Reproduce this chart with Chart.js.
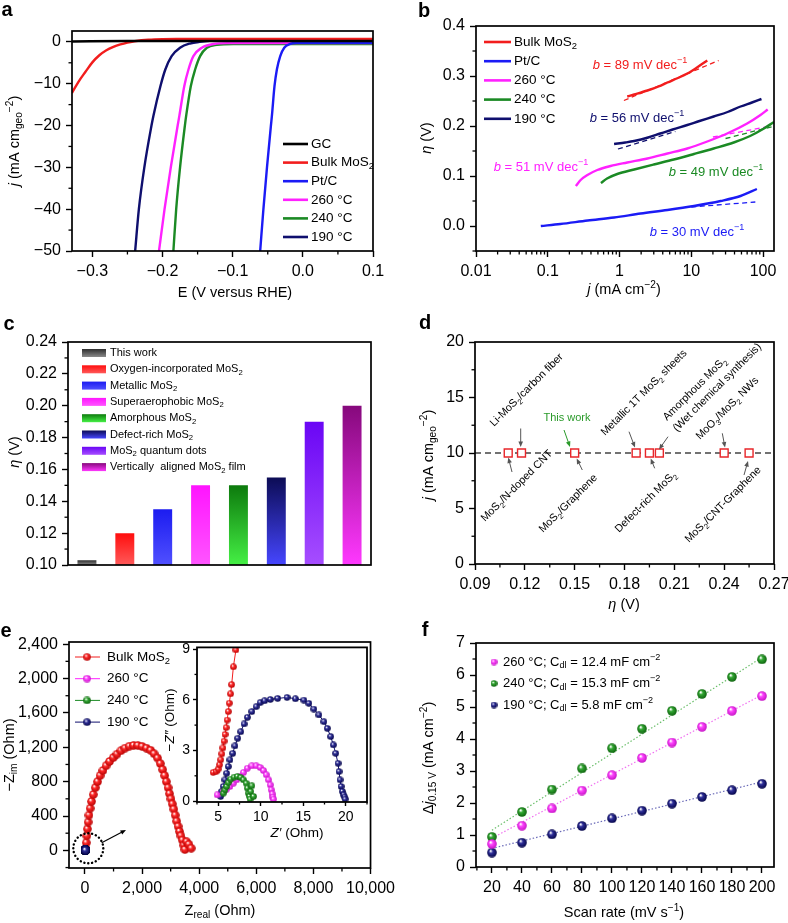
<!DOCTYPE html>
<html>
<head>
<meta charset="utf-8">
<title>MoS2 HER figure</title>
<script src="https://cdn.jsdelivr.net/npm/chart.js@4.4.1/dist/chart.umd.min.js"></script>
<style>
  html, body { margin: 0; padding: 0; background: #fff; width: 788px; height: 923px; overflow: hidden; }
  canvas { position: absolute; }
</style>
</head>
<body>
<canvas id="pa"></canvas>
<canvas id="pb"></canvas>
<canvas id="pc"></canvas>
<canvas id="pd"></canvas>
<canvas id="pe"></canvas>
<canvas id="pei"></canvas>
<canvas id="pf"></canvas>
<script>
const FONT = "'Liberation Sans', Arial, Helvetica, sans-serif";

// a) polarization curves, [E (V vs RHE), j (mA cm-2)]
const lsvGC = [[-0.329, 0.1], [-0.25, 0.2], [-0.15, 0.2], [0.1, 0.2]];
const lsvBulk = [[-0.329, -12.2], [-0.32, -9.6], [-0.31, -7.2], [-0.30, -4.9], [-0.29, -3.2], [-0.28, -2.0], [-0.27, -1.2], [-0.26, -0.62], [-0.25, -0.18], [-0.24, 0.14], [-0.23, 0.38], [-0.22, 0.53], [-0.20, 0.66], [-0.18, 0.7], [0.10, 0.7]];
const lsvPtC = [[-0.0608, -50], [-0.0562, -40], [-0.0511, -30], [-0.0455, -20], [-0.0441, -17.7], [-0.0404, -10.6], [-0.037, -6.6], [-0.0322, -3.4], [-0.0265, -1.4], [-0.018, -0.5], [-0.0085, -0.2], [0.10, -0.2]];
const lsv260 = [[-0.205, -50], [-0.1971, -40], [-0.1882, -30], [-0.1784, -20], [-0.176, -17.7], [-0.169, -10.6], [-0.163, -6.6], [-0.156, -3.4], [-0.144, -1.4], [-0.127, -0.5], [-0.108, -0.3], [0.10, -0.3]];
const lsv240 = [[-0.1845, -50], [-0.1805, -40], [-0.175, -30], [-0.1681, -20], [-0.1663, -17.7], [-0.1597, -10.6], [-0.1535, -6.6], [-0.1464, -3.4], [-0.1368, -1.4], [-0.1226, -0.7], [-0.099, -0.5], [0.10, -0.5]];
const lsv190 = [[-0.239, -50], [-0.2337, -40], [-0.2259, -30], [-0.2157, -20], [-0.213, -17.7], [-0.203, -10.6], [-0.196, -6.6], [-0.187, -3.4], [-0.175, -1.4], [-0.161, -0.4], [-0.147, 0], [-0.12, 0.3], [0.10, 0.3]];
const lsvLabels = ['GC', 'Bulk MoS_{2}', 'Pt/C', '260 °C', '240 °C', '190 °C'];
const aXTicks = [-0.3, -0.2, -0.1, 0, 0.1];
const aYTicks = [-50, -40, -30, -20, -10, 0];

// b) Tafel plots, [j (mA cm-2), eta (V)]
const tafelBulk = [[1.28, 0.259], [1.6, 0.263], [2.45, 0.271], [3.5, 0.279], [4.65, 0.287], [6.5, 0.296], [8.8, 0.305], [12, 0.317], [16.7, 0.331]];
const tafelPtC = [[0.08, 0.0], [0.15, 0.004], [0.36, 0.011], [0.84, 0.017], [1.97, 0.025], [4.65, 0.032], [10.9, 0.04], [25.6, 0.05], [48.6, 0.06], [82, 0.074]];
const tafel260 = [[0.246, 0.08], [0.287, 0.092], [0.357, 0.102], [0.49, 0.112], [0.75, 0.12], [1.28, 0.127], [2.45, 0.135], [4.65, 0.145], [8.8, 0.155], [16.7, 0.169], [31.6, 0.185], [60, 0.205], [92, 0.222], [116, 0.233]];
const tafel240 = [[0.55, 0.086], [0.67, 0.095], [0.93, 0.104], [1.6, 0.113], [3, 0.123], [5.7, 0.133], [10.9, 0.144], [20.5, 0.155], [39, 0.167], [66, 0.18], [100, 0.194], [142, 0.208]];
const tafel190 = [[0.84, 0.164], [1.2, 0.167], [1.6, 0.17], [2.5, 0.177], [3.7, 0.185], [5.5, 0.193], [8.8, 0.202], [13, 0.21], [20.5, 0.219], [32, 0.228], [48.6, 0.239], [70, 0.247], [95, 0.254]];
const fitBulk = [[1.15, 0.251], [24, 0.331]];
const fitPtC = [[10, 0.038], [78, 0.048]];
const fit260 = [[20, 0.178], [110, 0.198]];
const fit240 = [[30, 0.175], [145, 0.2]];
const fit190 = [[0.95, 0.154], [6, 0.189]];
const tafelLabels = ['Bulk MoS_{2}', 'Pt/C', '260 °C', '240 °C', '190 °C'];
const tafelSlopes = [89, 30, 51, 49, 56];
const bXTicks = [0.01, 0.1, 1, 10, 100];
const bXTickLabels = ['0.01', '0.1', '1', '10', '100'];
const bYTicks = [0, 0.1, 0.2, 0.3, 0.4];

// c) overpotential comparison
const compCategories = ['This work', 'Oxygen-incorporated MoS_{2}', 'Metallic MoS_{2}', 'Superaerophobic MoS_{2}', 'Amorphous MoS_{2}', 'Defect-rich MoS_{2}', 'MoS_{2} quantum dots', 'Vertically  aligned MoS_{2} film'];
const compOverpotential = [0.103, 0.12, 0.135, 0.15, 0.15, 0.155, 0.19, 0.2];
const cYTicks = [0.10, 0.12, 0.14, 0.16, 0.18, 0.20, 0.22, 0.24];

// d) literature at j = 10 mA cm-2
const litLabels = ['MoS_{2}/N-doped CNT', 'Li-MoS_{2}/carbon fiber', 'MoS_{2}/Graphene', 'Metallic 1T MoS_{2} sheets', 'Defect-rich MoS_{2}', 'Amorphous MoS_{2}|(Wet chemical synthesis)', 'MoO_{3}/MoS_{2} NWs', 'MoS_{2}/CNT-Graphene'];
const litEta = [0.11, 0.118, 0.15, 0.187, 0.195, 0.201, 0.24, 0.255];
const litJ = [10, 10, 10, 10, 10, 10, 10, 10];
const refJ = 10;
const dXTicks = [0.09, 0.12, 0.15, 0.18, 0.21, 0.24, 0.27];
const dYTicks = [0, 5, 10, 15, 20];

// e) Nyquist plots, [Z' (Ohm), -Z'' (Ohm)]
const eisBulk = [[30, 20], [45, 90], [65, 170], [85, 250], [110, 330], [140, 410], [180, 490], [230, 570], [290, 650], [360, 730], [440, 800], [530, 870], [630, 930], [740, 985], [860, 1035], [990, 1080], [1120, 1120], [1260, 1160], [1400, 1190], [1550, 1212], [1700, 1222], [1850, 1222], [2000, 1210], [2150, 1190], [2300, 1165], [2420, 1125], [2540, 1075], [2640, 1010], [2720, 940], [2790, 870], [2850, 800], [2910, 730], [2960, 660], [3010, 600], [3060, 540], [3110, 480], [3160, 410], [3210, 340], [3260, 280], [3310, 220], [3360, 170], [3410, 120], [3460, 60], [3500, 10], [3560, 100], [3640, 70], [3720, 25]];
const eisBulkZoom = [[4.4, 1.7], [4.75, 1.75], [5.0, 1.9], [5.15, 2.15], [5.3, 2.45], [5.42, 2.8], [5.55, 3.15], [5.68, 3.55], [5.8, 3.95], [5.93, 4.35], [6.05, 4.8], [6.18, 5.3], [6.3, 5.8], [6.45, 6.35], [6.58, 6.9], [6.78, 7.95], [7.08, 8.95], [7.35, 10.1]];
const eis260 = [[4.88, 0.37], [5.59, 0.57], [5.99, 0.71], [6.38, 0.87], [6.78, 1.06], [7.17, 1.26], [7.57, 1.46], [7.96, 1.69], [8.43, 1.95], [8.95, 2.09], [9.46, 2.09], [9.93, 1.99], [10.33, 1.81], [10.65, 1.56], [10.92, 1.26], [11.12, 0.96], [11.24, 0.67], [11.36, 0.43], [11.43, 0.24], [11.51, 0.12]];
const eis240 = [[5.59, 0.47], [5.79, 0.67], [5.99, 0.87], [6.18, 1.1], [6.46, 1.3], [6.86, 1.42], [7.25, 1.46], [7.65, 1.4], [7.96, 1.26], [8.28, 1.06], [8.43, 0.77], [8.55, 0.47], [8.67, 0.28], [8.83, 0.57], [8.95, 0.91], [8.75, 0.12], [9.15, 0.28]];
const eis190 = [[5.28, 0.28], [5.39, 0.57], [5.59, 0.87], [5.79, 1.26], [5.99, 1.65], [6.18, 2.05], [6.38, 2.44], [6.7, 2.83], [6.97, 3.27], [7.29, 3.72], [7.65, 4.11], [8.04, 4.57], [8.43, 4.96], [8.95, 5.3], [9.46, 5.59], [9.93, 5.83], [10.45, 5.94], [11.12, 6.02], [11.99, 6.08], [13.09, 6.14], [14.08, 6.06], [15.07, 5.98], [15.66, 5.79], [16.25, 5.45], [16.84, 5.1], [17.43, 4.7], [17.83, 4.31], [18.23, 3.82], [18.54, 3.33], [18.82, 2.83], [19.09, 2.24], [19.21, 1.75], [19.33, 1.26], [19.45, 0.87], [19.61, 0.57], [19.76, 0.37], [19.88, 0.24], [19.92, 0.12]];
const eisLabels = ['Bulk MoS_{2}', '260 °C', '240 °C', '190 °C'];
const eXTicks = [0, 2000, 4000, 6000, 8000, 10000];
const eYTicks = [0, 400, 800, 1200, 1600, 2000, 2400];
const eInXTicks = [5, 10, 15, 20];
const eInYTicks = [0, 3, 6, 9];

// f) double-layer capacitance
const scanRates = [20, 40, 60, 80, 100, 120, 140, 160, 180, 200];
const dj260 = [0.72, 1.29, 1.83, 2.39, 2.87, 3.41, 3.89, 4.38, 4.88, 5.34];
const dj240 = [0.94, 1.72, 2.42, 3.08, 3.71, 4.32, 4.88, 5.41, 5.94, 6.49];
const dj190 = [0.45, 0.76, 1.02, 1.28, 1.52, 1.76, 1.98, 2.19, 2.4, 2.6];
const fitEnds260 = [0.9, 5.38];
const fitEnds240 = [1.15, 6.55];
const fitEnds190 = [0.58, 2.66];
const cdlTemps = ['260 °C', '240 °C', '190 °C'];
const cdlValues = ['12.4', '15.3', '5.8'];
const fXTicks = [20, 40, 60, 80, 100, 120, 140, 160, 180, 200];
const fYTicks = [0, 1, 2, 3, 4, 5, 6, 7];

// colours
const K = '#000000', RED = '#f21d1d', BLUE = '#1b1bf5', MAG = '#ff21ff', GRN = '#1b8a24', NAVY = '#0f0f6e';

const xy = pts => pts.map(p => ({x: p[0], y: p[1]}));
const minus = s => s.replace(/-/g, '\u2212');
const comma = v => v.toLocaleString('en-US');

function parseRich(s) {
  const out = [], re = /([_^~])\{([^}]*)\}/g;
  let last = 0, m;
  while ((m = re.exec(s)) !== null) {
    if (m.index > last) out.push({t: s.slice(last, m.index), k: ''});
    out.push({t: m[2], k: m[1]});
    last = re.lastIndex;
  }
  if (last < s.length) out.push({t: s.slice(last), k: ''});
  return out;
}

function text(ctx, s, x, y, o = {}) {
  const size = o.size || 14.5;
  const parts = parseRich(s);
  let w = 0;
  parts.forEach(p => {
    p.sz = (p.k === '_' || p.k === '^') ? size * 0.7 : size;
    p.font = (p.k === '~' ? 'italic ' : '') + (o.bold ? 'bold ' : '') + p.sz + 'px ' + FONT;
    ctx.font = p.font;
    p.w = ctx.measureText(p.t).width;
    w += p.w;
  });
  ctx.save();
  ctx.translate(x, y);
  if (o.rot) ctx.rotate(o.rot * Math.PI / 180);
  ctx.fillStyle = o.color || '#000';
  ctx.textAlign = 'left';
  ctx.textBaseline = o.baseline || 'middle';
  let cx = o.align === 'left' ? 0 : -w / 2;
  parts.forEach(p => {
    ctx.font = p.font;
    const dy = p.k === '_' ? size * 0.3 : p.k === '^' ? -size * 0.36 : 0;
    ctx.fillText(p.t, cx, dy);
    cx += p.w;
  });
  ctx.restore();
}

function hline(ctx, x1, x2, y, color, lw, dash) {
  ctx.save();
  ctx.strokeStyle = color; ctx.lineWidth = lw;
  ctx.setLineDash(dash || []);
  ctx.beginPath(); ctx.moveTo(x1, y); ctx.lineTo(x2, y); ctx.stroke();
  ctx.restore();
}

function arrow(ctx, x1, y1, x2, y2, color, lw) {
  const a = Math.atan2(y2 - y1, x2 - x1), hl = 5.5, hw = 2.3;
  ctx.save();
  ctx.strokeStyle = color; ctx.fillStyle = color; ctx.lineWidth = lw || 1;
  ctx.beginPath(); ctx.moveTo(x1, y1);
  ctx.lineTo(x2 - Math.cos(a) * hl * 0.8, y2 - Math.sin(a) * hl * 0.8); ctx.stroke();
  ctx.beginPath(); ctx.moveTo(x2, y2);
  ctx.lineTo(x2 - hl * Math.cos(a) + hw * Math.sin(a), y2 - hl * Math.sin(a) - hw * Math.cos(a));
  ctx.lineTo(x2 - hl * Math.cos(a) - hw * Math.sin(a), y2 - hl * Math.sin(a) + hw * Math.cos(a));
  ctx.closePath(); ctx.fill();
  ctx.restore();
}

function makeBall(base, edge, d) {
  const c = document.createElement('canvas');
  c.width = d; c.height = d;
  const g = c.getContext('2d');
  const gr = g.createRadialGradient(d * 0.36, d * 0.32, d * 0.04, d * 0.5, d * 0.5, d * 0.52);
  gr.addColorStop(0, '#ffffff');
  gr.addColorStop(0.32, base);
  gr.addColorStop(1, edge);
  g.fillStyle = gr;
  g.beginPath(); g.arc(d / 2, d / 2, d / 2 - 0.2, 0, Math.PI * 2); g.fill();
  return c;
}

function drawMinor(chart, minor, len) {
  const ctx = chart.ctx, ca = chart.chartArea;
  Object.keys(minor).forEach(k => {
    const sc = chart.scales[k], st = minor[k], vals = [];
    if (st === 'log') {
      for (let e = -3; e <= 3; e++) for (let m = 2; m <= 9; m++) vals.push(m * Math.pow(10, e));
    } else {
      for (let i = Math.ceil(sc.min / st - 1e-6); i <= Math.floor(sc.max / st + 1e-6); i++) vals.push(i * st);
    }
    vals.forEach(v => {
      if (v < sc.min - 1e-9 || v > sc.max + 1e-9) return;
      const tol = st === 'log' ? Math.abs(v) * 1e-6 : st * 1e-3;
      if (sc.ticks.some(tk => Math.abs(tk.value - v) <= tol)) return;
      const p = sc.getPixelForValue(v);
      ctx.beginPath();
      if (sc.isHorizontal()) { ctx.moveTo(p, ca.bottom); ctx.lineTo(p, ca.bottom + len); }
      else { ctx.moveTo(ca.left, p); ctx.lineTo(ca.left - len, p); }
      ctx.stroke();
    });
  });
}

function axis(pos, type, min, max, ticks, fmt, o = {}) {
  return {
    type: type, position: pos, min: min, max: max,
    afterBuildTicks: ax => { ax.ticks = ticks.map(v => ({value: v})); },
    grid: {drawOnChartArea: false, drawTicks: true, tickLength: o.tl || 6, tickWidth: 1.4, tickColor: '#000'},
    border: {display: false},
    ticks: {color: '#000', font: {family: FONT, size: o.fs || 16}, padding: o.pad !== undefined ? o.pad : 5,
            autoSkip: false, maxRotation: 0, minRotation: 0, callback: v => fmt(v)}
  };
}

// box = canvas [x, y, w, h] on the page, plot = wanted chart area [left, top, right, bottom]
function panel(id, box, plot, type, data, scales, deco) {
  const [x0, y0, w, h] = box, [l, t, r, b] = plot;
  const cv = document.getElementById(id);
  cv.width = w; cv.height = h;
  cv.style.left = x0 + 'px'; cv.style.top = y0 + 'px';
  const L = l - x0, B = y0 + h - b;
  let bottomShown = false;
  Object.values(scales).forEach(s => {
    if (s.display === false) return;
    if (s.position === 'left') s.afterFit = ax => { ax.width = L; };
    else { s.afterFit = ax => { ax.height = B; }; bottomShown = true; }
  });
  return new Chart(cv, {
    type: type,
    data: data,
    options: {
      responsive: false, animation: false, devicePixelRatio: 1, events: [],
      layout: {padding: {left: 0, top: t - y0, right: x0 + w - r, bottom: bottomShown ? 0 : B}},
      scales: scales,
      plugins: {legend: {display: false}, tooltip: {enabled: false}}
    },
    plugins: [{
      id: 'deco_' + id,
      beforeDatasetsDraw(chart) {
        if (!deco.bg) return;
        const ca = chart.chartArea, ctx = chart.ctx;
        ctx.save(); ctx.fillStyle = deco.bg;
        ctx.fillRect(ca.left, ca.top, ca.right - ca.left, ca.bottom - ca.top);
        ctx.restore();
      },
      afterDraw(chart) {
        const ctx = chart.ctx, ca = chart.chartArea;
        ctx.save();
        ctx.strokeStyle = '#000'; ctx.lineWidth = 1.3;
        if (deco.minor) drawMinor(chart, deco.minor, deco.minorLen || 3.5);
        ctx.lineWidth = deco.frame || 1.7;
        ctx.strokeRect(ca.left, ca.top, ca.right - ca.left, ca.bottom - ca.top);
        ctx.translate(-x0, -y0);
        if (deco.draw) deco.draw(ctx, chart);
        ctx.restore();
      }
    }]
  });
}

// ---------- a ----------
const lsvSeries = [lsvGC, lsvBulk, lsvPtC, lsv260, lsv240, lsv190];
const lsvColors = [K, RED, BLUE, MAG, GRN, NAVY];
panel('pa', [0, 0, 394, 305], [72, 31, 373, 251], 'scatter',
  {datasets: lsvSeries.map((s, i) => ({data: xy(s), showLine: true, borderColor: lsvColors[i], borderWidth: 2.4,
    pointRadius: 0, cubicInterpolationMode: 'monotone'}))},
  {x: axis('bottom', 'linear', -0.329, 0.1, aXTicks, v => minus(v.toFixed(1))),
   y: axis('left', 'linear', -50, 2.6, aYTicks, v => minus(String(v)))},
  {minor: {x: 0.05, y: 5}, draw(ctx) {
    text(ctx, 'a', 7, 10, {size: 20, bold: true});
    text(ctx, '~{j} (mA cm_{geo}^{\u22122})', 15, 141, {rot: -90});
    text(ctx, 'E (V versus RHE)', 235, 293);
    lsvLabels.forEach((lab, i) => {
      const y = 144 + i * 18.6;
      hline(ctx, 283, 308, y, lsvColors[i], 2.6);
      text(ctx, lab, 311, y, {size: 13.5, align: 'left'});
    });
  }});

// ---------- b ----------
const tafelSeries = [tafelBulk, tafelPtC, tafel260, tafel240, tafel190];
const tafelFits = [fitBulk, fitPtC, fit260, fit240, fit190];
const tafelColors = [RED, BLUE, MAG, GRN, NAVY];
const slopeSpots = [[640, 65], [697, 232], [541, 167], [716, 172], [637, 118]];
panel('pb', [394, 0, 414, 305], [476, 26, 774, 251], 'scatter',
  {datasets: tafelSeries.map((s, i) => ({data: xy(s), showLine: true, borderColor: tafelColors[i], borderWidth: 2.4,
      pointRadius: 0, cubicInterpolationMode: 'monotone'}))
    .concat(tafelFits.map((s, i) => ({data: xy(s), showLine: true, borderColor: tafelColors[i], borderWidth: 1.3,
      borderDash: [5, 3.5], pointRadius: 0})))},
  {x: axis('bottom', 'logarithmic', 0.01, 142, bXTicks,
      v => bXTickLabels[bXTicks.findIndex(t => Math.abs(Math.log10(t) - Math.log10(v)) < 1e-6)]),
   y: axis('left', 'linear', -0.05, 0.4, bYTicks, v => v.toFixed(1))},
  {minor: {x: 'log', y: 0.05}, draw(ctx) {
    text(ctx, 'b', 424, 11, {size: 20, bold: true});
    text(ctx, '~{\u03b7} (V)', 427, 138, {rot: -90});
    text(ctx, '~{j} (mA cm^{\u22122})', 624, 290);
    tafelLabels.forEach((lab, i) => {
      const y = 42 + i * 19.2;
      hline(ctx, 484, 511, y, tafelColors[i], 2.6);
      text(ctx, lab, 514, y, {size: 13.5, align: 'left'});
    });
    tafelSlopes.forEach((b, i) => {
      text(ctx, '~{b} = ' + b + ' mV dec^{\u22121}', slopeSpots[i][0], slopeSpots[i][1], {size: 13, color: tafelColors[i]});
    });
  }});

// ---------- c ----------
const barShades = [['#2e2e2e', '#8a8a8a'], ['#ff0d0d', '#ff5a5a'], ['#1c1cf0', '#5050ff'], ['#ff14ff', '#ff55ff'],
                   ['#0d7a0d', '#45f045'], ['#0c0c55', '#4646ff'], ['#6a06f5', '#a64dff'], ['#86097c', '#ff38ff']];
panel('pc', [0, 305, 394, 310], [68, 342, 371, 565], 'bar',
  {labels: compCategories, datasets: [{data: compOverpotential, barPercentage: 0.5, categoryPercentage: 1,
    backgroundColor: c => {
      const sh = barShades[c.dataIndex] || barShades[0];
      const ch = c.chart, ca = ch.chartArea;
      if (!ca || c.type !== 'data') return sh[0];
      const yTop = ch.scales.y.getPixelForValue(c.raw);
      const g = ch.ctx.createLinearGradient(0, yTop, 0, ca.bottom);
      g.addColorStop(0, sh[0]); g.addColorStop(1, sh[1]);
      return g;
    }}]},
  {x: {type: 'category', display: false},
   y: axis('left', 'linear', 0.10, 0.24, cYTicks, v => v.toFixed(2))},
  {minor: {y: 0.01}, draw(ctx) {
    text(ctx, 'c', 9, 324, {size: 20, bold: true});
    text(ctx, '~{\u03b7} (V)', 15, 452, {rot: -90});
    compCategories.forEach((lab, i) => {
      const y = 353 + i * 16.3;
      const g = ctx.createLinearGradient(0, y - 4, 0, y + 4);
      g.addColorStop(0, barShades[i][0]); g.addColorStop(1, barShades[i][1]);
      ctx.fillStyle = g;
      ctx.fillRect(82, y - 4, 24, 8);
      text(ctx, lab, 110, y, {size: 11, align: 'left'});
    });
  }});

// ---------- d ----------
const dNoteSpots = [[[485, 522]], [[494, 427]], [[543, 533]], [[605, 436]], [[619, 533]], [[667, 421], [677, 432]], [[700, 440]], [[689, 543]]];
const dArrows = [[512, 472, 508.3, 457.5], [520.7, 428.5, 520.7, 447], [582.3, 470, 576.7, 458.5], [629, 431.7, 635, 447.5],
                 [654.7, 468.3, 650.7, 458.5], [668, 436.7, 659, 449.5], [722.3, 433.3, 725, 447.5], [744, 475, 748, 461]];
panel('pd', [394, 305, 414, 310], [475, 342, 774, 564], 'scatter',
  {datasets: [
    {data: litEta.map((x, i) => ({x: x, y: litJ[i]})), pointStyle: 'rect', pointRadius: 5.6,
     borderColor: '#e8262a', backgroundColor: '#ffffff', borderWidth: 1.4},
    {data: [{x: dXTicks[0], y: refJ}, {x: dXTicks[dXTicks.length - 1], y: refJ}], showLine: true,
     borderColor: '#444444', borderWidth: 1.5, borderDash: [6, 4], pointRadius: 0}
  ]},
  {x: axis('bottom', 'linear', 0.09, 0.27, dXTicks, v => v.toFixed(2)),
   y: axis('left', 'linear', 0, 20, dYTicks, v => String(v))},
  {minor: {x: 0.015, y: 2.5}, draw(ctx) {
    text(ctx, 'd', 425, 323, {size: 20, bold: true});
    text(ctx, '~{j} (mA cm_{geo}^{\u22122})', 429, 455, {rot: -90});
    text(ctx, '~{\u03b7} (V)', 624, 605);
    litLabels.forEach((lab, i) => {
      lab.split('|').forEach((line, k) => {
        const p = dNoteSpots[i][k];
        text(ctx, line, p[0], p[1], {size: 10.8, rot: -45, align: 'left', baseline: 'alphabetic'});
      });
    });
    dArrows.forEach(a => arrow(ctx, a[0], a[1], a[2], a[3], '#555555', 1));
    text(ctx, 'This work', 567, 418, {size: 11, color: '#2a9a2a'});
    arrow(ctx, 564, 430, 570, 447, '#2a9a2a', 1);
  }});

// ---------- e ----------
const balls = {
  red: makeBall('#ff2a2a', '#b00000', 9), mag: makeBall('#ff45ff', '#c010c0', 9),
  grn: makeBall('#34a834', '#0a5c0a', 9), navy: makeBall('#30309a', '#000040', 9)
};
const ballsSmall = {
  red: makeBall('#ff2a2a', '#b00000', 7), mag: makeBall('#ff45ff', '#c010c0', 7),
  grn: makeBall('#34a834', '#0a5c0a', 7), navy: makeBall('#30309a', '#000040', 7)
};
const eisColors = [RED, MAG, GRN, NAVY];
const eisKeys = ['red', 'mag', 'grn', 'navy'];
function eisSet(pts, key, color, order, set) {
  return {data: xy(pts), showLine: true, borderColor: color, borderWidth: 1, pointStyle: set[key],
          pointRadius: 4, order: order};
}
panel('pe', [0, 615, 400, 308], [69, 642, 371, 868], 'scatter',
  {datasets: [eisSet(eisBulk, 'red', RED, 3, balls), eisSet(eis260, 'mag', MAG, 2, balls),
              eisSet(eis240, 'grn', GRN, 1, balls), eisSet(eis190, 'navy', NAVY, 0, balls)]},
  {x: axis('bottom', 'linear', -560, 10000, eXTicks, comma),
   y: axis('left', 'linear', -205, 2425, eYTicks, comma)},
  {minor: {x: 1000, y: 200}, draw(ctx) {
    text(ctx, 'e', 6, 631, {size: 20, bold: true});
    text(ctx, '\u2212Z_{im} (Ohm)', 10, 755, {rot: -90});
    text(ctx, 'Z_{real} (Ohm)', 220, 911);
    eisLabels.forEach((lab, i) => {
      const y = 657 + i * 21.7;
      hline(ctx, 75, 100, y, eisColors[i], 1);
      ctx.drawImage(ballsSmall[eisKeys[i]], 87 - 4, y - 4, 8, 8);
      text(ctx, lab, 107, y, {size: 13.5, align: 'left'});
    });
    ctx.save();
    ctx.strokeStyle = '#000'; ctx.lineWidth = 2.4; ctx.lineCap = 'round';
    ctx.setLineDash([0.1, 3.8]);
    ctx.beginPath(); ctx.arc(88.3, 848.3, 15, 0, Math.PI * 2); ctx.stroke();
    ctx.restore();
    arrow(ctx, 101.7, 842.7, 126, 830, '#000', 1.2);
  }});

panel('pei', [160, 636, 215, 209], [197, 647, 367, 802], 'scatter',
  {datasets: [eisSet(eisBulkZoom, 'red', RED, 3, ballsSmall), eisSet(eis260, 'mag', MAG, 1, ballsSmall),
              eisSet(eis240, 'grn', GRN, 0, ballsSmall), eisSet(eis190, 'navy', NAVY, 2, ballsSmall)]},
  {x: axis('bottom', 'linear', 2.5, 22.5, eInXTicks, v => String(v), {fs: 14, tl: 4, pad: 3}),
   y: axis('left', 'linear', -0.05, 9.1, eInYTicks, v => String(v), {fs: 14, tl: 4, pad: 3})},
  {bg: '#ffffff', minor: {x: 2.5, y: 1.5}, minorLen: 2.5, frame: 1.8, draw(ctx) {
    text(ctx, '\u2212~{Z\u2033} (Ohm)', 170, 720, {rot: -90, size: 13.5});
    text(ctx, '~{Z\u2032} (Ohm)', 297, 833, {size: 13.5});
  }});

// ---------- f ----------
const fBalls = {
  mag: makeBall('#ff45ff', '#c010c0', 10), grn: makeBall('#34a834', '#0a5c0a', 10), navy: makeBall('#30309a', '#000040', 10)
};
const fSeries = [dj260, dj240, dj190];
const fFits = [fitEnds260, fitEnds240, fitEnds190];
const fKeys = ['mag', 'grn', 'navy'];
const fFitColors = ['#f070f0', '#6cbf6c', '#6a6ab8'];
panel('pf', [394, 615, 414, 308], [476, 643, 774, 867], 'scatter',
  {datasets: fSeries.map((s, i) => ({data: scanRates.map((x, k) => ({x: x, y: s[k]})), pointStyle: fBalls[fKeys[i]], pointRadius: 5}))
    .concat(fFits.map((f, i) => ({data: [{x: scanRates[0], y: f[0]}, {x: scanRates[scanRates.length - 1], y: f[1]}],
      showLine: true, borderColor: fFitColors[i], borderWidth: 1.2, borderDash: [1.5, 2], pointRadius: 0})))},
  {x: axis('bottom', 'linear', 9.4, 208, fXTicks, v => String(v)),
   y: axis('left', 'linear', 0, 7, fYTicks, v => String(v))},
  {minor: {x: 10, y: 0.5}, draw(ctx) {
    text(ctx, 'f', 425, 630, {size: 20, bold: true});
    text(ctx, '\u0394~{j}_{0.15 V} (mA cm^{\u22122})', 429, 758, {rot: -90});
    text(ctx, 'Scan rate (mV s^{\u22121})', 624, 913);
    cdlTemps.forEach((tmp, i) => {
      const y = 662 + i * 21.5;
      ctx.drawImage(ballsSmall[fKeys[i]], 494 - 3.5, y - 3.5, 7, 7);
      text(ctx, tmp + '; C_{dl} = ' + cdlValues[i] + ' mF cm^{\u22122}', 503, y, {size: 13, align: 'left'});
    });
  }});
</script>
</body>
</html>
